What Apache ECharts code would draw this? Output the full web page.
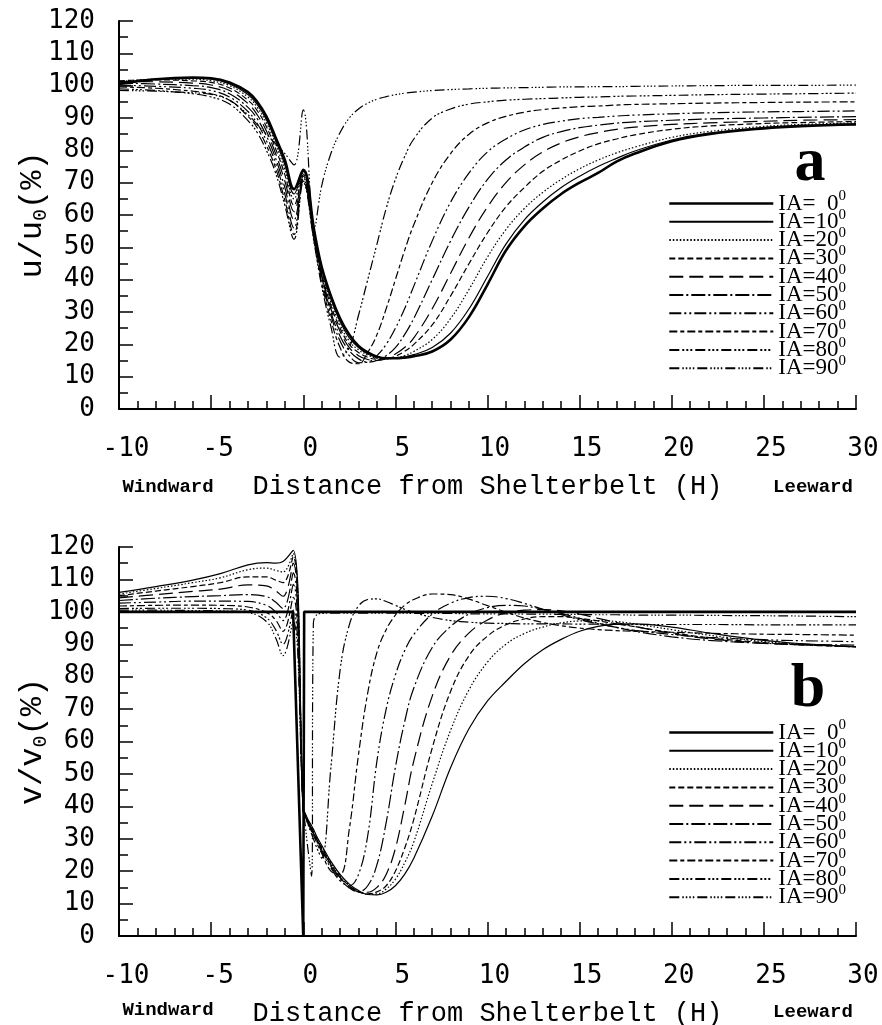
<!DOCTYPE html>
<html>
<head>
<meta charset="utf-8">
<script src="https://cdn.jsdelivr.net/npm/echarts@6/dist/echarts.min.js"></script>
<style>
  html, body { margin: 0; padding: 0; background: #fff; }
  #chart { width: 882px; height: 1025px; }
</style>
</head>
<body>
<div id="chart"></div>
<script>
// legend names (incidence angle)
const names = ["IA=0", "IA=10", "IA=20", "IA=30", "IA=40", "IA=50", "IA=60", "IA=70", "IA=80", "IA=90"];

// panel a : u/u0 (%)
const xsU = [-10, -8, -6, -5, -4, -3, -2.5, -2, -1.5, -1, -0.5, 0, 0.6, 1, 1.5, 2, 2.5, 3, 3.5, 4, 4.5, 5, 5.5, 6, 7, 8, 9, 10, 11, 12, 13, 14, 15, 16, 17, 18, 20, 22, 25, 27, 30];
const u0  = [100.5, 102, 102.5, 102.3, 101, 98, 95, 90.5, 84, 77, 68, 74, 55, 44, 35, 28, 23, 19.5, 17.5, 16.2, 15.7, 15.7, 15.9, 16.3, 17.8, 21.5, 28.5, 38.5, 49, 56.5, 62, 66.5, 70, 73, 76.5, 79, 82.8, 85, 86.8, 87.5, 88];
const u10 = [100.8, 102, 102.3, 102, 100.5, 97.3, 94.2, 89.5, 83, 75.5, 66.5, 73.5, 54.5, 43.5, 34, 27, 22, 19, 17, 16, 15.6, 15.7, 16.1, 16.8, 19, 23.5, 31, 41, 51, 58.5, 64, 68.5, 72, 75, 77.5, 79.8, 83.2, 85.3, 87, 87.7, 88.2];
const u20 = [101.2, 102, 102, 101.5, 100, 96.5, 93.3, 88.5, 82, 74, 65, 73, 54, 43, 33, 26, 21, 18.3, 16.7, 15.7, 15.5, 15.8, 16.5, 17.8, 21.5, 28, 37, 47, 55.5, 62, 67, 71, 74.3, 77, 79.2, 81, 84, 85.8, 87.4, 88, 88.5];
const u30 = [101.5, 101.8, 101.5, 101, 99.3, 95.5, 92.3, 87.3, 80.5, 72.5, 63, 72.5, 53.5, 42, 32, 25, 20, 17.5, 16, 15.4, 15.5, 16.3, 17.8, 20, 26, 35, 45, 54.5, 62.5, 68.5, 73.5, 77, 79.8, 82, 83.5, 84.8, 86.5, 87.5, 88.3, 88.6, 88.9];
const u40 = [101.3, 101.2, 100.8, 100.2, 98.5, 94.5, 91, 86, 79, 70.5, 61, 72, 53, 41.5, 31, 24, 19, 16.5, 15.3, 15, 15.6, 17, 19, 22, 31, 42, 53, 62.5, 70, 75.5, 79.5, 82.3, 84.2, 85.5, 86.5, 87.2, 88, 88.5, 89, 89.3, 89.5];
const u50 = [100.8, 100.5, 100, 99.4, 97.5, 93.3, 89.8, 84.5, 77.5, 68.5, 58.5, 71.5, 52.5, 41, 30, 22.5, 18, 15.5, 14.5, 15, 16.5, 19, 23, 28, 40, 52, 62.5, 71, 77, 81, 84, 85.8, 87, 87.8, 88.4, 88.8, 89.3, 89.7, 90, 90.2, 90.4];
const u60 = [100.2, 99.8, 99.2, 98.5, 96.5, 92, 88.3, 83, 76, 66.5, 56, 71, 52, 40, 29, 21, 16.5, 14.3, 14.5, 16.5, 20, 25, 31, 38, 52, 64, 73, 79.5, 83.5, 86.3, 88, 89, 89.8, 90.2, 90.6, 90.9, 91.3, 91.6, 91.9, 92, 92.2];
const u70 = [99.6, 99.2, 98.3, 97.5, 95.5, 90.5, 87, 81.5, 74.5, 64.5, 54, 70.5, 51.5, 39, 27.5, 19, 14.5, 14, 17.5, 23, 31, 40, 49, 57, 70, 79, 85, 88.5, 90.5, 91.8, 92.6, 93.1, 93.5, 93.7, 94, 94.2, 94.4, 94.6, 94.8, 94.9, 95];
const u80 = [99, 98.5, 97.5, 96.5, 94.3, 89.2, 85.5, 80, 73, 63, 52.5, 70, 51, 38, 25.5, 16, 19, 29, 40, 51, 62, 71, 78, 83.5, 90, 92.8, 94.3, 95, 95.5, 95.8, 96, 96.2, 96.4, 96.5, 96.7, 96.8, 97, 97.2, 97.4, 97.5, 97.7];
const u90 = [98.5, 98.3, 97.8, 97.3, 95.5, 91, 88, 85, 82, 79, 75.5, 92.5, 56, 69, 79, 85.5, 90, 92.8, 94.6, 95.8, 96.6, 97.2, 97.7, 98, 98.5, 98.8, 99, 99.2, 99.3, 99.4, 99.5, 99.6, 99.6, 99.7, 99.7, 99.8, 99.9, 100, 100.1, 100.1, 100.2];

// panel b : v/v0 (%)
const xsV = [-10, -8, -6, -4.5, -3, -2, -1.5, -1.1, -0.55, 0, 0.05, 0.25, 0.45, 0.55, 0.75, 1, 1.5, 2, 2.5, 3, 3.5, 4, 4.5, 5, 5.5, 6, 7, 8, 9, 10, 11, 12, 13, 14, 15, 16, 17, 18, 20, 22, 25, 27, 30];
const v0  = [100, 100, 100, 100, 100, 100, 100, 100, 100, 0, 100, 100, 100, 100, 100, 100, 100, 100, 100, 100, 100, 100, 100, 100, 100, 100, 100, 100, 100, 100, 100, 100, 100, 100, 100, 100, 100, 100, 100, 100, 100, 100, 100];
const v10 = [106, 107.8, 109.8, 111.8, 114.5, 115.2, 115, 115.5, 119, 39, 38.5, 36, 34, 33, 30.5, 28, 23, 19, 16, 14, 12.8, 12.7, 13.5, 15.5, 19, 24, 37, 52, 64, 72.5, 78.5, 84, 88.3, 91.5, 94, 95.5, 96.2, 96.3, 95.3, 93.5, 91.2, 90.2, 89.2];
const v20 = [105.5, 107.2, 109, 110.5, 113, 113.5, 112.8, 112.3, 118, 38.8, 38.3, 35.7, 33.5, 32.5, 30, 27.5, 22.5, 18.5, 15.7, 13.8, 12.9, 13, 14.5, 17.5, 22.5, 29, 47, 63.5, 76, 84.5, 90, 93.3, 95.3, 96.6, 97.2, 97.3, 97, 96.3, 94.5, 92.8, 90.8, 90, 89.2];
const v30 = [105, 106.4, 107.8, 109, 110.8, 110.8, 109.8, 109, 117, 38.6, 38.1, 35.5, 33.2, 32.2, 29.7, 27.2, 22.2, 18.2, 15.5, 13.7, 13, 13.6, 15.5, 20, 27, 36, 58, 75.5, 86.5, 92.5, 96, 97.8, 98.5, 98.5, 98, 97.2, 96.3, 95.4, 93.6, 92, 90.5, 89.8, 89.2];
const v40 = [104.3, 105.3, 106.3, 107, 108.3, 108, 106.5, 104.8, 115, 38.5, 38, 35.3, 33, 32, 29.5, 27, 22, 18, 15.2, 13.6, 13.5, 15, 19, 27, 40, 54, 74, 86.5, 93.5, 97.5, 99.7, 100.5, 100.7, 100.3, 99.3, 98, 96.7, 95.5, 93.3, 91.7, 90.3, 89.8, 89.3];
const v50 = [103.5, 104.2, 104.7, 105, 105.3, 104.7, 103, 101, 112, 38.5, 38, 35, 32.8, 31.8, 29.2, 26.5, 21.5, 17.5, 14.8, 13.6, 15.5, 22, 35, 52, 66, 76.5, 89, 95.5, 99.3, 101.3, 102, 101.8, 100.8, 99.5, 98, 96.5, 95.2, 94, 92.3, 91.2, 90.3, 90, 89.7];
const v60 = [102.7, 103, 103.3, 103.3, 103.2, 102, 100, 97.3, 108.5, 38.5, 38, 35, 32.5, 31.5, 29, 26, 21, 17, 15.5, 19, 31, 54, 70, 80.5, 88, 93, 99.3, 102.7, 104.4, 104.8, 104.1, 102.6, 100.8, 99.1, 97.6, 96.3, 95.2, 94.3, 93, 92.1, 91.4, 91.1, 90.8];
const v70 = [101.8, 102, 102.1, 102, 101.5, 99.8, 97.5, 94, 104.5, 38.5, 38, 34.8, 32.3, 31.2, 28.5, 25.5, 20, 19, 33, 56, 75, 87.5, 94.5, 99, 102, 103.8, 105.5, 105.3, 103.9, 101.9, 99.9, 98.1, 96.7, 95.7, 95, 94.5, 94.2, 94, 93.7, 93.4, 93.1, 93, 92.8];
const v80 = [101, 101.1, 101.1, 101, 100.5, 98.2, 94.5, 90, 100.5, 38.5, 38, 34.5, 31.5, 30, 27, 24, 52, 82, 96, 101.8, 103.8, 104, 103.2, 102, 100.8, 99.8, 98.3, 97.3, 96.8, 96.5, 96.4, 96.3, 96.3, 96.3, 96.2, 96.2, 96.2, 96.1, 96.1, 96.1, 96, 96, 96];
const v90 = [100.5, 100.5, 100.4, 100.3, 99.8, 97, 92, 86.5, 97, 38.5, 37, 27, 18.5, 96.5, 99.2, 99.5, 99.6, 99.6, 99.6, 99.6, 99.6, 99.6, 99.6, 99.6, 99.6, 99.5, 99.5, 99.5, 99.4, 99.4, 99.4, 99.3, 99.3, 99.2, 99.2, 99.1, 99.1, 99, 99, 98.9, 98.8, 98.7, 98.5];

const uSeries = [u0, u10, u20, u30, u40, u50, u60, u70, u80, u90];
const vSeries = [v0, v10, v20, v30, v40, v50, v60, v70, v80, v90];

// line pattern of each IA curve
const dashes = [
  "solid",
  "solid",
  [1.5, 2],
  [6, 3],
  [14, 6],
  [14, 3, 2, 3],
  [12, 3, 2, 3, 2, 3],
  [8, 3, 4, 3],
  [10, 3, 2, 2, 2, 2, 2, 3],
  [10, 3, 1.5, 2, 1.5, 2, 1.5, 2, 1.5, 3]
];

const monoFont = "DejaVu Sans Mono";
const labelFont = "Liberation Mono";

function makeX(gridIndex) {
  return {
    type: "value",
    gridIndex: gridIndex,
    min: -10,
    max: 30,
    interval: 5,
    name: "Distance from Shelterbelt (H)",
    nameLocation: "middle",
    nameGap: 64,
    nameTextStyle: { fontFamily: labelFont, fontSize: 27, color: "#000" },
    axisLine: { onZero: false, lineStyle: { color: "#000", width: 2 } },
    axisTick: { inside: true, length: 14, lineStyle: { color: "#000", width: 1.5 } },
    minorTick: { show: true, splitNumber: 5, length: 8, lineStyle: { color: "#000", width: 1.5 } },
    splitLine: { show: false },
    minorSplitLine: { show: false },
    axisLabel: { fontFamily: monoFont, fontSize: 26, color: "#000", margin: 27, padding: [0, 0, 0, 14] }
  };
}

function makeY(gridIndex, letter) {
  return {
    type: "value",
    gridIndex: gridIndex,
    min: 0,
    max: 120,
    interval: 10,
    name: "{a|" + letter + "/" + letter + "}{b|0}{a|(%)}",
    nameLocation: "middle",
    nameRotate: 90,
    nameGap: 68,
    nameMoveOverlap: false,
    nameTextStyle: {
      color: "#000",
      rich: {
        a: { fontFamily: labelFont, fontSize: 32, lineHeight: 36, color: "#000" },
        b: { fontFamily: labelFont, fontSize: 20, lineHeight: 20, verticalAlign: "bottom", color: "#000" }
      }
    },
    axisLine: { onZero: false, lineStyle: { color: "#000", width: 2 } },
    axisTick: { inside: true, length: 14, lineStyle: { color: "#000", width: 1.5 } },
    minorTick: { show: true, splitNumber: 2, length: 9, lineStyle: { color: "#000", width: 1.5 } },
    splitLine: { show: false },
    minorSplitLine: { show: false },
    axisLabel: { fontFamily: monoFont, fontSize: 26, color: "#000", margin: 24 }
  };
}

function makeLegend(top) {
  return {
    orient: "vertical",
    left: 668,
    top: top,
    padding: 0,
    itemWidth: 104,
    itemHeight: 12,
    itemGap: -10.7,
    selectedMode: false,
    data: names.map(function (n, i) {
      return i === 0 ? { name: n, lineStyle: { width: 2.6 } } : { name: n };
    }),
    itemStyle: { opacity: 0 },
    formatter: function (name) {
      const deg = name.slice(3);
      const pad = deg.length < 2 ? "  " : "";
      return "{t|IA=" + pad + deg + "}{s|0}";
    },
    textStyle: {
      color: "#000",
      fontFamily: "Liberation Serif",
      fontSize: 23,
      lineHeight: 17,
      rich: {
        t: { fontFamily: "Liberation Serif", fontSize: 23, lineHeight: 17, color: "#000" },
        s: { fontFamily: "Liberation Serif", fontSize: 15, lineHeight: 14, padding: [0, 0, 14, 0], color: "#000" }
      }
    }
  };
}

function makeSeries(xs, list, axisIndex, smoothFirst) {
  return list.map(function (vals, i) {
    return {
      name: names[i],
      type: "line",
      xAxisIndex: axisIndex,
      yAxisIndex: axisIndex,
      symbol: "none",
      smooth: i === 0 && !smoothFirst ? false : 0.4,
      lineStyle: { color: "#000", width: i === 0 ? 2.6 : 1.2, type: dashes[i] },
      data: xs.map(function (x, k) { return [x, vals[k]]; })
    };
  });
}

function sideText(x, y, text) {
  return {
    type: "text",
    x: x,
    y: y,
    style: {
      text: text,
      fontFamily: labelFont,
      fontWeight: "bold",
      fontSize: 19,
      fill: "#000",
      align: "center",
      verticalAlign: "middle"
    }
  };
}

function panelLetter(x, y, text) {
  return {
    type: "text",
    x: x,
    y: y,
    style: {
      text: text,
      fontFamily: "Liberation Serif",
      fontWeight: "bold",
      fontSize: 62,
      fill: "#000",
      align: "center",
      verticalAlign: "middle"
    }
  };
}

const chart = echarts.init(document.getElementById("chart"), null, { renderer: "canvas" });

const option = {
  backgroundColor: "#fff",
  animation: false,
  grid: [
    { left: 119, top: 21, width: 737, height: 388, containLabel: false, outerBoundsMode: "none" },
    { left: 119, top: 547, width: 737, height: 389, containLabel: false, outerBoundsMode: "none" }
  ],
  xAxis: [makeX(0), makeX(1)],
  yAxis: [makeY(0, "u"), makeY(1, "v")],
  legend: [makeLegend(189), makeLegend(718)],
  graphic: [
    sideText(168, 487, "Windward"),
    sideText(813, 487, "Leeward"),
    sideText(168, 1010, "Windward"),
    sideText(813, 1012, "Leeward"),
    panelLetter(810, 164, "a"),
    panelLetter(808, 690, "b")
  ],
  series: makeSeries(xsU, uSeries, 0, true).concat(makeSeries(xsV, vSeries, 1, false))
};

chart.setOption(option);
</script>
</body>
</html>
